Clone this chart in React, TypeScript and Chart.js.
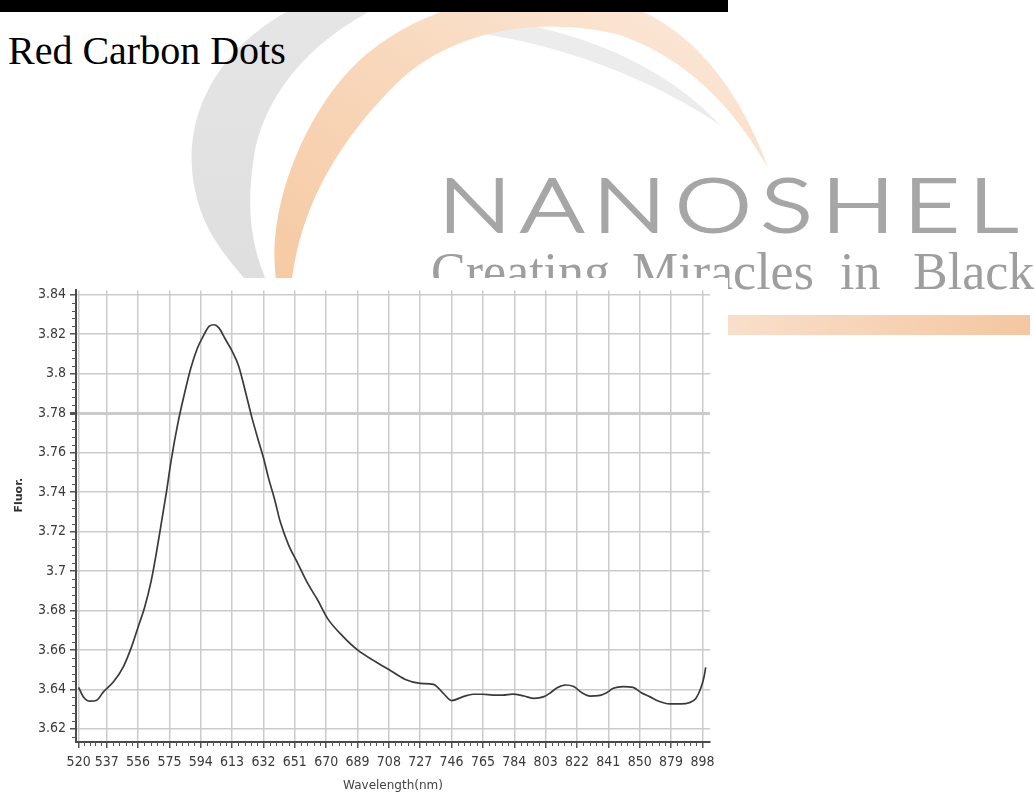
import React, { useEffect, useRef } from "react";
import { Chart, registerables } from "chart.js";

Chart.register(...registerables);

// ---- data ----
const wavelengths = [
  520, 523, 527, 531, 535, 541, 547, 552, 556, 560, 564, 567, 570, 573, 576, 580,
  584, 588, 592, 596, 599, 602, 605, 609, 613, 617, 621, 625, 629, 632, 635, 639,
  642, 647, 653, 659, 665, 671, 680, 689, 700, 708, 718, 727, 735, 741, 746, 753,
  759, 765, 771, 777, 783, 790, 796, 802, 806, 810, 815, 820, 825, 830, 835, 840,
  844, 850, 856, 861, 866, 872, 878, 885, 890, 894, 897, 899, 900,
];
const fluor = [
  3.641, 3.636, 3.634, 3.6345, 3.6387, 3.6437, 3.6513, 3.6614, 3.6715, 3.6816, 3.6951,
  3.7086, 3.7237, 3.7389, 3.7557, 3.7743, 3.7894, 3.8029, 3.813, 3.8198, 3.824, 3.8248,
  3.8232, 3.8173, 3.8114, 3.8038, 3.7911, 3.7777, 3.7659, 3.7574, 3.7473, 3.7355,
  3.7254, 3.7136, 3.7035, 3.6934, 3.685, 3.6757, 3.667, 3.66, 3.654, 3.65, 3.645,
  3.643, 3.6425, 3.638, 3.6343, 3.6363, 3.6375, 3.6375, 3.6371, 3.6371, 3.6376,
  3.6366, 3.6354, 3.6363, 3.6383, 3.6408, 3.6422, 3.6414, 3.6383, 3.6366, 3.6368,
  3.6383, 3.6405, 3.6414, 3.641, 3.6383, 3.6363, 3.6338, 3.6326, 3.6326, 3.6332,
  3.6354, 3.6405, 3.6464, 3.6511,
];
const xTickValues = [
  520, 537, 556, 575, 594, 613, 632, 651, 670, 689, 708, 727, 746, 765, 784, 803, 822,
  841, 860, 879, 898,
];
const xTickLabels = [
  "520", "537", "556", "575", "594", "613", "632", "651", "670", "689", "708", "727",
  "746", "765", "784", "803", "822", "841", "850", "879", "898",
];
const yTickValues = [3.62, 3.64, 3.66, 3.68, 3.7, 3.72, 3.74, 3.76, 3.78, 3.8, 3.82, 3.84];
const yTickLabels = [
  "3.62", "3.64", "3.66", "3.68", "3.7", "3.72", "3.74", "3.76", "3.78", "3.8", "3.82", "3.84",
];
const xMin = 518.4;
const xMax = 902.6;
const yMin = 3.6133;
const yMax = 3.8422;

const tickFont = {
  family: "'DejaVu Sans Condensed', 'Liberation Sans Narrow', sans-serif",
  size: 14,
};

const minorTicks = {
  id: "minorTicks",
  afterDraw(chart: any) {
    const { ctx, chartArea } = chart;
    const x = chart.scales.x;
    const y = chart.scales.y;
    ctx.save();
    ctx.strokeStyle = "#555";
    ctx.lineWidth = 1;
    ctx.beginPath();
    for (let i = 0; i < xTickValues.length - 1; i++) {
      const a = xTickValues[i];
      const b = xTickValues[i + 1];
      for (let k = 1; k < 5; k++) {
        const px = Math.round(x.getPixelForValue(a + ((b - a) * k) / 5)) + 0.5;
        ctx.moveTo(px, chartArea.bottom);
        ctx.lineTo(px, chartArea.bottom + 4);
      }
    }
    const step = 0.004;
    for (let v = yTickValues[0] - step; v > yMin; v -= step) {
      const py = Math.round(y.getPixelForValue(v)) + 0.5;
      ctx.moveTo(chartArea.left - 4, py);
      ctx.lineTo(chartArea.left, py);
    }
    for (let i = 0; i < yTickValues.length - 1; i++) {
      const a = yTickValues[i];
      const b = yTickValues[i + 1];
      for (let k = 1; k < 5; k++) {
        const py = Math.round(y.getPixelForValue(a + ((b - a) * k) / 5)) + 0.5;
        ctx.moveTo(chartArea.left - 4, py);
        ctx.lineTo(chartArea.left, py);
      }
    }
    ctx.stroke();
    ctx.restore();
  },
};

function SpectrumChart() {
  const ref = useRef<HTMLCanvasElement | null>(null);
  useEffect(() => {
    if (!ref.current) return;
    const chart = new Chart(ref.current, {
      type: "line",
      data: {
        datasets: [
          {
            data: wavelengths.map((w, i) => ({ x: w, y: fluor[i] })),
            borderColor: "#3a3a3a",
            borderWidth: 1.7,
            pointRadius: 0,
            cubicInterpolationMode: "monotone",
            fill: false,
          },
        ],
      },
      options: {
        animation: false,
        responsive: false,
        maintainAspectRatio: false,
        layout: { padding: { top: 11, right: 18, left: 0, bottom: 0 } },
        plugins: { legend: { display: false }, tooltip: { enabled: false } },
        scales: {
          x: {
            type: "linear",
            min: xMin,
            max: xMax,
            afterBuildTicks: (s: any) => {
              s.ticks = xTickValues.map((v) => ({ value: v }));
            },
            afterFit: (s: any) => {
              s.height = 52;
            },
            ticks: {
              autoSkip: false,
              maxRotation: 0,
              padding: 6,
              color: "#3a3a3a",
              font: tickFont,
              callback: (v: any) => xTickLabels[xTickValues.indexOf(Number(v))] ?? "",
            },
            grid: {
              color: "#cbcbcb",
              lineWidth: 1.5,
              tickLength: 6,
              tickColor: "#555",
            },
            border: { color: "#4a4a4a", width: 2 },
            title: {
              display: true,
              text: "Wavelength(nm)",
              color: "#444",
              font: { family: "'DejaVu Sans', sans-serif", size: 12 },
              padding: { top: 2, bottom: 1 },
            },
          },
          y: {
            type: "linear",
            min: yMin,
            max: yMax,
            afterBuildTicks: (s: any) => {
              s.ticks = yTickValues.map((v) => ({ value: v }));
            },
            afterFit: (s: any) => {
              s.width = 76;
            },
            ticks: {
              padding: 4,
              color: "#3a3a3a",
              font: tickFont,
              callback: (v: any, i: number) => yTickLabels[i] ?? "",
            },
            grid: {
              color: "#cbcbcb",
              lineWidth: (c: any) => (c.tick && c.tick.value === 3.78 ? 3 : 1.5),
              tickLength: 6,
              tickColor: "#555",
            },
            border: { color: "#4a4a4a", width: 2 },
            title: {
              display: true,
              text: "           Fluor.",
              color: "#333",
              font: { family: "'DejaVu Sans', sans-serif", size: 11, weight: "bold" },
              padding: { top: 13, bottom: 0 },
            },
          },
        },
      },
      plugins: [minorTicks],
    } as any);
    return () => chart.destroy();
  }, []);
  return <canvas ref={ref} width={728} height={516} style={{ display: "block" }} />;
}

export default function App() {
  return (
    <div
      style={{
        position: "absolute",
        left: 0,
        top: 0,
        width: 1034,
        height: 794,
        overflow: "hidden",
        background: "#fff",
      }}
    >
      <svg
        width={1034}
        height={794}
        style={{ position: "absolute", left: 0, top: 0 }}
        xmlns="http://www.w3.org/2000/svg"
      >
        <defs>
          <linearGradient id="org" x1="0" y1="1" x2="1" y2="0">
            <stop offset="0" stopColor="#f6c9a2" />
            <stop offset="0.45" stopColor="#f8d6b9" />
            <stop offset="1" stopColor="#fcebdd" />
          </linearGradient>
          <linearGradient id="gry" x1="0" y1="1" x2="0" y2="0">
            <stop offset="0" stopColor="#dedede" />
            <stop offset="1" stopColor="#e6e6e6" />
          </linearGradient>
          <linearGradient id="bar" x1="0" y1="0" x2="1" y2="0">
            <stop offset="0" stopColor="#f9dfca" />
            <stop offset="1" stopColor="#f3c7a1" />
          </linearGradient>
        </defs>
        {/* gray swoosh */}
        <path
          d="M 262 300 C 235 265 205 240 195 190 C 180 120 215 50 290 10 L 300 -10 L 420 -10 C 330 20 270 80 255 150 C 245 210 250 250 275 300 Z"
          fill="url(#gry)"
        />
        {/* faint inner sweep */}
        <path
          d="M 440 14 C 560 20 660 60 720 125 C 650 78 560 44 470 32 Z"
          fill="#ececec"
        />
        {/* orange swoosh */}
        <path
          d="M 280 300 C 258 220 305 110 360 60 C 420 5 520 -20 610 0 C 690 20 740 90 768 168 C 735 110 690 60 620 35 C 540 15 450 30 395 85 C 340 140 295 210 290 300 Z"
          fill="url(#org)"
        />
        <rect x={0} y={0} width={728} height={12} fill="#000" />
        <text
          x={8}
          y={64}
          fontFamily="'Liberation Serif', 'Times New Roman', serif"
          fontSize={40}
          fill="#000"
        >
          Red Carbon Dots
        </text>
        <g transform="translate(438,232) scale(1.3,1)">
          <text
            x={0}
            y={0}
            fontFamily="Lato, 'DejaVu Sans', sans-serif"
            fontWeight={300}
            fontSize={75}
            fill="#a6a6a6"
            stroke="#a6a6a6"
            strokeWidth={2}
            textLength={446}
            lengthAdjust="spacing"
          >
            NANOSHEL
          </text>
        </g>
        <g fontFamily="'Liberation Serif', 'Times New Roman', serif" fontSize={52} fill="#9e9e9e">
          <text x={431} y={289}>Creating</text>
          <text x={632} y={289}>Miracles</text>
          <text x={840} y={289}>in</text>
          <text x={913} y={289}>Black</text>
        </g>
        <rect x={728} y={315} width={302} height={20} fill="url(#bar)" />
      </svg>
      <div
        style={{
          position: "absolute",
          left: 0,
          top: 278,
          width: 728,
          height: 516,
          background: "#fff",
        }}
      >
        <SpectrumChart />
      </div>
    </div>
  );
}
